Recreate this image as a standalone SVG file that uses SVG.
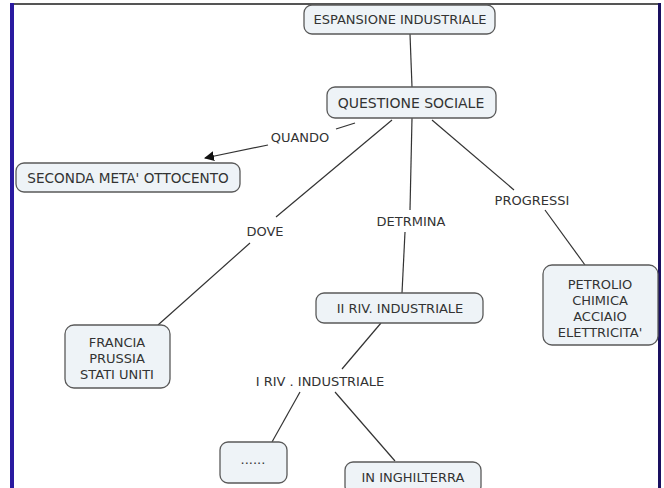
<svg xmlns="http://www.w3.org/2000/svg" width="664" height="488" viewBox="0 0 664 488">
<style>
.n rect{fill:#eef3f7;stroke:#5a5a5a;stroke-width:1.3}
text{font-family:"DejaVu Sans",Verdana,sans-serif;font-size:13px;fill:#333;text-anchor:middle}
.c line{stroke:#333;stroke-width:1.2}
</style>
<defs><marker id="ah" markerWidth="10" markerHeight="10" refX="9" refY="5" orient="auto" markerUnits="userSpaceOnUse"><path d="M0,0 L10,5 L0,10 z" fill="#111"/></marker></defs>
<rect x="0" y="0" width="664" height="488" fill="#fff"/>
<rect x="10" y="3" width="651" height="2" fill="#555"/>
<rect x="10" y="3" width="4" height="485" fill="#2a1aa0"/>
<rect x="658" y="3" width="3" height="485" fill="#1a1060"/>
<g class="c">
<line x1="410" y1="34" x2="412" y2="87"/>
<line x1="355" y1="123" x2="336" y2="129"/>
<line x1="268" y1="145" x2="205" y2="158" marker-end="url(#ah)"/>
<line x1="392" y1="120" x2="276" y2="217"/>
<line x1="250" y1="243" x2="158" y2="325"/>
<line x1="412" y1="118" x2="410" y2="210"/>
<line x1="405" y1="232" x2="402" y2="293"/>
<line x1="432" y1="120" x2="514" y2="190"/>
<line x1="545" y1="210" x2="585" y2="265"/>
<line x1="381" y1="323" x2="342" y2="369"/>
<line x1="300" y1="392" x2="272" y2="442"/>
<line x1="335" y1="392" x2="395" y2="461"/>
</g>
<text x="300" y="142">QUANDO</text>
<text x="265" y="236">DOVE</text>
<text x="411" y="226">DETRMINA</text>
<text x="532" y="205">PROGRESSI</text>
<text x="320" y="386">I RIV . INDUSTRIALE</text>
<g class="n" id="espansione"><rect x="304" y="5" width="191" height="29" rx="8"/><text x="400" y="24">ESPANSIONE INDUSTRIALE</text></g>
<g class="n" id="questione"><rect x="327" y="87" width="169" height="31" rx="8"/><text x="411" y="108" style="font-size:14px">QUESTIONE SOCIALE</text></g>
<g class="n" id="seconda"><rect x="16" y="163" width="224" height="29" rx="8"/><text x="128" y="183" style="font-size:13.6px">SECONDA META' OTTOCENTO</text></g>
<g class="n" id="petrolio"><rect x="543" y="265" width="115" height="80" rx="9"/><text x="600" y="289">PETROLIO</text><text x="600" y="305">CHIMICA</text><text x="600" y="321">ACCIAIO</text><text x="600" y="337">ELETTRICITA'</text></g>
<g class="n" id="francia"><rect x="65" y="325" width="105" height="63" rx="9"/><text x="117" y="347">FRANCIA</text><text x="117" y="363">PRUSSIA</text><text x="117" y="379">STATI UNITI</text></g>
<g class="n" id="riv2"><rect x="316" y="293" width="167" height="30" rx="8"/><text x="400" y="313">II RIV. INDUSTRIALE</text></g>
<g class="n" id="dots"><rect x="220" y="442" width="67" height="41" rx="8"/><text x="253" y="464">......</text></g>
<g class="n" id="inghilterra"><rect x="345" y="462" width="136" height="32" rx="8"/><text x="413" y="482">IN INGHILTERRA</text></g>
</svg>
